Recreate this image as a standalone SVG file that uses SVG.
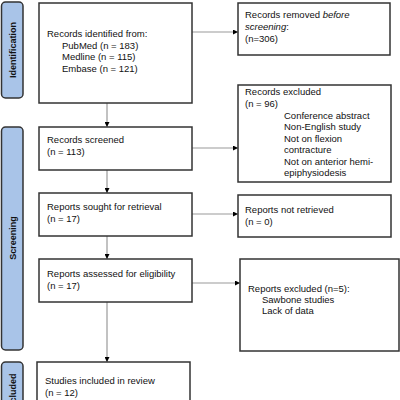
<svg xmlns="http://www.w3.org/2000/svg" width="400" height="400" viewBox="0 0 400 400">
<defs>
<marker id="ah" viewBox="0 0 10 10" refX="10" refY="5" markerWidth="6" markerHeight="5" markerUnits="userSpaceOnUse" orient="auto">
<path d="M0,0 L10,5 L0,10 z" fill="#000"/>
</marker>
<style>
.box{fill:#fff;stroke:#333;stroke-width:1.5}
.bar{fill:#a9c4e8;stroke:#333;stroke-width:1.5}
.t{font-family:"Liberation Sans",Arial,sans-serif;font-size:9.5px;fill:#111}
.bt{font-family:"Liberation Sans",Arial,sans-serif;font-size:9px;font-weight:bold;fill:#111;text-anchor:middle}
.c{stroke:#999;stroke-width:1.2;fill:none;marker-end:url(#ah)}
</style>
</defs>
<rect width="400" height="400" fill="#fff"/>
<g id="bar-identification"><rect class="bar" x="1.5" y="2" width="21.5" height="96" rx="4"/><text class="bt" transform="translate(15.5,50) rotate(-90)">Identification</text></g>
<g id="bar-screening"><rect class="bar" x="1.5" y="127" width="21.5" height="223" rx="4"/><text class="bt" transform="translate(15.5,238) rotate(-90)">Screening</text></g>
<g id="bar-included"><rect class="bar" x="1.5" y="362" width="21.5" height="60" rx="4"/><text class="bt" transform="translate(15.5,392) rotate(-90)">Included</text></g>

<g id="connectors">
<line class="c" x1="192" y1="32" x2="238" y2="32"/>
<line class="c" x1="107" y1="103" x2="107" y2="127"/>
<line class="c" x1="192" y1="148" x2="238" y2="148"/>
<line class="c" x1="107" y1="170" x2="107" y2="193"/>
<line class="c" x1="192" y1="214" x2="238" y2="214"/>
<line class="c" x1="107" y1="236" x2="107" y2="259"/>
<line class="c" x1="192" y1="283" x2="240" y2="283"/>
<line class="c" x1="107" y1="302" x2="107" y2="362"/>
</g>

<g id="identified"><rect class="box" x="39" y="3" width="153" height="100"/>
<text class="t" x="47" y="37">Records identified from:</text>
<text class="t" x="62" y="49">PubMed (n = 183)</text>
<text class="t" x="62" y="60">Medline (n = 115)</text>
<text class="t" x="62" y="72">Embase (n = 121)</text></g>

<g id="removed"><rect class="box" x="238" y="3" width="152" height="52"/>
<text class="t" x="245" y="18">Records removed <tspan font-style="italic">before</tspan></text>
<text class="t" x="245" y="30"><tspan font-style="italic">screening</tspan>:</text>
<text class="t" x="245" y="42">(n=306)</text></g>

<g id="screened"><rect class="box" x="39" y="127" width="153" height="43"/>
<text class="t" x="47" y="143">Records screened</text>
<text class="t" x="47" y="155">(n = 113)</text></g>

<g id="excluded"><rect class="box" x="238" y="85" width="153" height="97"/>
<text class="t" x="245" y="95">Records excluded</text>
<text class="t" x="245" y="107">(n = 96)</text>
<text class="t" x="284" y="119">Conference abstract</text>
<text class="t" x="284" y="130">Non-English study</text>
<text class="t" x="284" y="142">Not on flexion</text>
<text class="t" x="284" y="153">contracture</text>
<text class="t" x="284" y="165">Not on anterior hemi-</text>
<text class="t" x="284" y="176">epiphysiodesis</text></g>

<g id="sought"><rect class="box" x="39" y="193" width="153" height="43"/>
<text class="t" x="47" y="210">Reports sought for retrieval</text>
<text class="t" x="47" y="222">(n = 17)</text></g>

<g id="notretrieved"><rect class="box" x="238" y="195" width="153" height="42"/>
<text class="t" x="245" y="213">Reports not retrieved</text>
<text class="t" x="245" y="225">(n = 0)</text></g>

<g id="assessed"><rect class="box" x="39" y="259" width="153" height="43"/>
<text class="t" x="47" y="277">Reports assessed for eligibility</text>
<text class="t" x="47" y="289">(n = 17)</text></g>

<g id="repexcluded"><rect class="box" x="240" y="259" width="159" height="92"/>
<text class="t" x="248" y="292">Reports excluded (n=5):</text>
<text class="t" x="262" y="303">Sawbone studies</text>
<text class="t" x="262" y="314">Lack of data</text></g>

<g id="included"><rect class="box" x="37" y="362" width="153" height="60"/>
<text class="t" x="45" y="384">Studies included in review</text>
<text class="t" x="45" y="396">(n = 12)</text></g>
</svg>
